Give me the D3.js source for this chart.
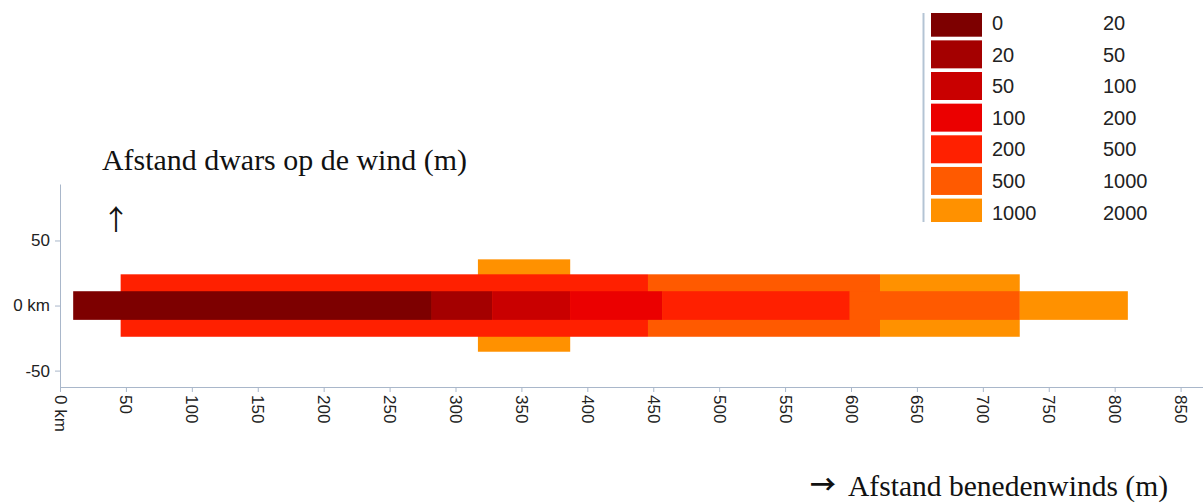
<!DOCTYPE html>
<html>
<head>
<meta charset="utf-8">
<script src="https://cdn.jsdelivr.net/npm/d3@7"></script>
<style>
  html, body { margin: 0; padding: 0; background: #fff; }
  svg { display: block; }
  .tick text { fill: #222; font-family: "Liberation Sans", Arial, sans-serif; font-size: 17px; }
  .axis path, .axis line { stroke: #a9b7ca; }
  .title { font-family: "Liberation Serif", "Times New Roman", serif; font-size: 29px; fill: #111; }
</style>
</head>
<body>
<svg id="chart" width="1203" height="504"></svg>
<script>
(function() {
  'use strict';

  // concentration classes (legend)
  var classLow = [0, 20, 50, 100, 200, 500, 1000];
  var classHigh = [20, 50, 100, 200, 500, 1000, 2000];
  var classColors = ['#7d0000', '#a40000', '#c90000', '#eb0000', '#ff2000', '#ff5a00', '#ff9100'];

  // plume bands: half width across the wind (m), widest first
  var bandHalfWidth = [35.5, 24, 11];
  // segments per band: [from (m), to (m), class index]
  var wideSegments = [[317, 387, 6]];
  var outerSegments = [[46, 446, 4], [446, 622, 5], [622, 728, 6]];
  var innerSegments = [[10, 282, 0], [282, 328, 1], [328, 387, 2], [387, 457, 3], [457, 599, 4], [599, 728, 5], [728, 810, 6]];
  var bandSegments = [wideSegments, outerSegments, innerSegments];

  var xTicks = [0, 50, 100, 150, 200, 250, 300, 350, 400, 450, 500, 550, 600, 650, 700, 750, 800, 850];
  var yTicks = [-50, 0, 50];

  var svg = d3.select('#chart');

  var x = d3.scaleLinear().domain([0, 867]).range([60, 1203]),
    y = d3.scaleLinear().domain([-62.6, 93.4]).range([387, 184]);

  // bands
  bandSegments.forEach(function(segs, i) {
    var hw = bandHalfWidth[i];
    svg.append('g')
      .selectAll('rect')
      .data(segs)
      .join('rect')
      .attr('x', function(d) { return x(d[0]); })
      .attr('width', function(d) { return x(d[1]) - x(d[0]); })
      .attr('y', y(hw))
      .attr('height', y(-hw) - y(hw))
      .attr('fill', function(d) { return classColors[d[2]]; });
  });

  // axes
  var gx = svg.append('g')
    .attr('class', 'axis')
    .attr('transform', 'translate(0,' + y.range()[0] + ')')
    .call(d3.axisBottom(x).tickValues(xTicks).tickSize(5).tickSizeOuter(0)
      .tickFormat(function(d) { return d === 0 ? '0 km' : d; }));
  gx.selectAll('.tick text')
    .attr('transform', 'rotate(90)')
    .attr('text-anchor', 'start')
    .attr('x', 8)
    .attr('y', 0)
    .attr('dy', '0.35em');

  svg.append('g')
    .attr('class', 'axis')
    .attr('transform', 'translate(' + x.range()[0] + ',0)')
    .call(d3.axisLeft(y).tickValues(yTicks).tickSize(5).tickPadding(5).tickSizeOuter(0)
      .tickFormat(function(d) { return d === 0 ? '0 km' : d; }));

  // titles
  svg.append('text')
    .attr('class', 'title')
    .attr('x', 102)
    .attr('y', 170)
    .attr('textLength', 365)
    .attr('lengthAdjust', 'spacingAndGlyphs')
    .text('Afstand dwars op de wind (m)');

  svg.append('text')
    .attr('x', 116)
    .attr('y', 230)
    .attr('text-anchor', 'middle')
    .style('font-family', '"Noto Sans CJK SC", sans-serif')
    .style('font-size', '28px')
    .attr('fill', '#111')
    .text('↑');

  svg.append('text')
    .attr('x', 810)
    .attr('y', 494)
    .style('font-family', '"Noto Sans CJK SC", sans-serif')
    .style('font-size', '26px')
    .style('font-weight', 'bold')
    .attr('fill', '#111')
    .text('→');

  svg.append('text')
    .attr('class', 'title')
    .attr('x', 848)
    .attr('y', 496)
    .attr('textLength', 320)
    .attr('lengthAdjust', 'spacingAndGlyphs')
    .text('Afstand benedenwinds (m)');

  // legend (cut off at the top, as in the source)
  svg.append('clipPath')
    .attr('id', 'legend-clip')
    .append('rect')
    .attr('x', 915)
    .attr('y', 13)
    .attr('width', 288)
    .attr('height', 209);

  var legend = svg.append('g').attr('clip-path', 'url(#legend-clip)');

  legend.append('line')
    .attr('x1', 923.5).attr('x2', 923.5)
    .attr('y1', 0).attr('y2', 230)
    .attr('stroke', '#b4c4d4')
    .attr('stroke-width', 2);

  var rowH = 31.65;
  var rows = legend.selectAll('g.row')
    .data(classLow)
    .join('g')
    .attr('class', 'row')
    .attr('transform', function(d, i) { return 'translate(0,' + (8.7 + i * rowH) + ')'; });

  rows.append('rect')
    .attr('x', 931)
    .attr('width', 51)
    .attr('height', 28)
    .attr('fill', function(d, i) { return classColors[i]; });

  rows.append('text')
    .attr('x', 992)
    .attr('y', 14)
    .attr('dy', '0.36em')
    .style('font-family', '"Liberation Sans", Arial, sans-serif')
    .style('font-size', '20px')
    .attr('fill', '#222')
    .text(function(d) { return d; });

  rows.append('text')
    .attr('x', 1103)
    .attr('y', 14)
    .attr('dy', '0.36em')
    .style('font-family', '"Liberation Sans", Arial, sans-serif')
    .style('font-size', '20px')
    .attr('fill', '#222')
    .text(function(d, i) { return classHigh[i]; });

})();
</script>
</body>
</html>
